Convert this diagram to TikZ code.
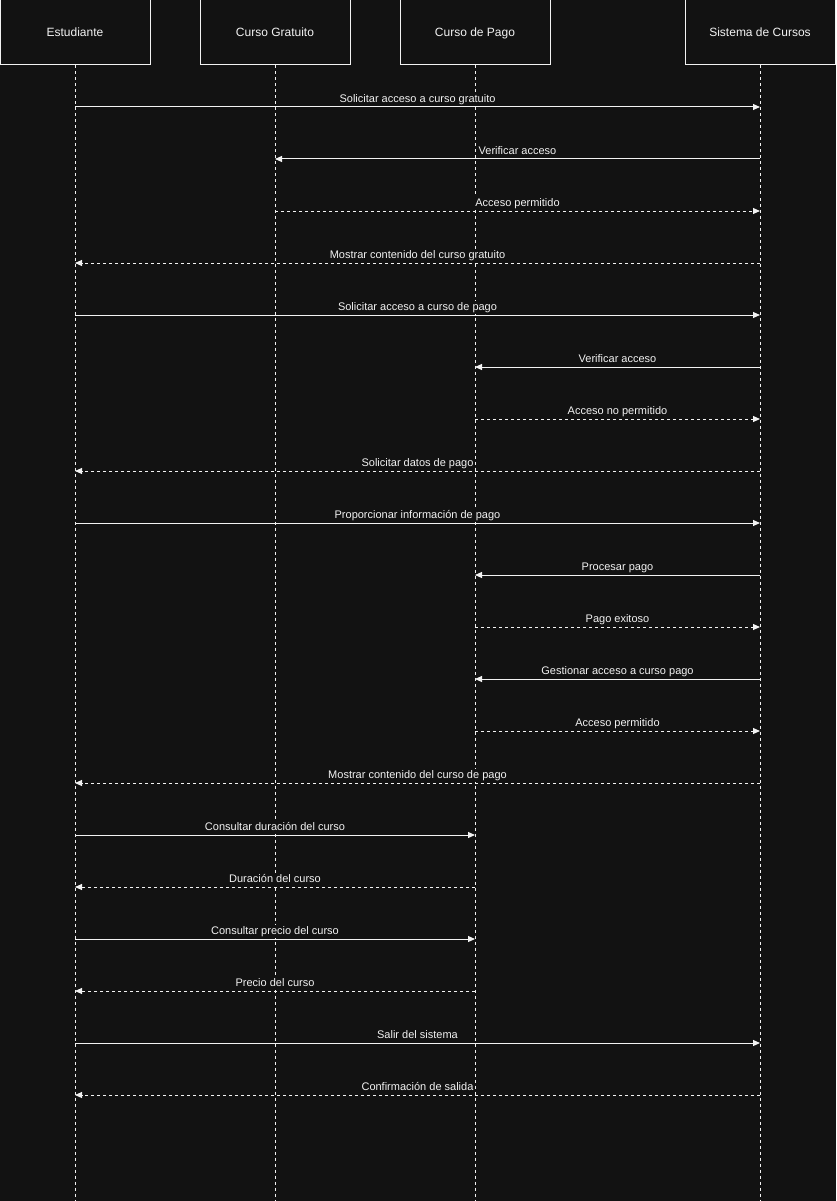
\documentclass[tikz,border=0pt]{standalone}
\usepackage{fontspec}
\setmainfont{Liberation Sans}
\usetikzlibrary{arrows.meta}
\definecolor{bgdark}{RGB}{18,18,18}
\definecolor{inkwhite}{RGB}{242,242,242}
\tikzset{every picture/.style={line width=1pt}}
\tikzset{
  head/.style={draw=inkwhite, fill=bgdark, text=inkwhite, minimum width=150, minimum height=65, inner sep=0pt, text height=8.6pt, text depth=0pt, font=\fontsize{12}{14}\selectfont},
  lifeline/.style={draw=inkwhite, dash pattern=on 3pt off 3pt},
  call/.style={draw=inkwhite, -{Triangle[length=7pt,width=6pt]}},
  reply/.style={call, dash pattern=on 3pt off 3pt},
  lbl/.style={text=inkwhite, fill=bgdark, inner sep=1pt, anchor=base, yshift=4.7pt, text height=8pt, text depth=2.5pt, font=\fontsize{11}{13}\selectfont}
}

\begin{document}
\begin{tikzpicture}[x=1pt,y=1pt,yscale=-1,xscale=1]
%set diagram size to the page
\fill[bgdark] (0,0) rectangle (836,1201);
\useasboundingbox (0,0) rectangle (836,1201);

%Participants
\node[head] (est) at (75,32.5) {Estudiante};
\node[head] (gra) at (275,32.5) {Curso Gratuito};
\node[head] (pag) at (475,32.5) {Curso de Pago};
\node[head] (sis) at (760,32.5) {Sistema de Cursos};

%Lifelines
\coordinate (estEnd) at (75,1201);
\coordinate (graEnd) at (275,1201);
\coordinate (pagEnd) at (475,1201);
\coordinate (sisEnd) at (760,1201);
\draw[lifeline] (est.south) -- (estEnd);
\draw[lifeline] (gra.south) -- (graEnd);
\draw[lifeline] (pag.south) -- (pagEnd);
\draw[lifeline] (sis.south) -- (sisEnd);

%message rows on each lifeline
\foreach \i in {1,...,20}{
  \coordinate (E\i) at (75,55+52*\i);
  \coordinate (G\i) at (275,55+52*\i);
  \coordinate (P\i) at (475,55+52*\i);
  \coordinate (S\i) at (760,55+52*\i);
}

%Messages
\draw[call] (E1) -- node[lbl] {Solicitar acceso a curso gratuito} (S1);
\draw[call] (S2) -- node[lbl] {Verificar acceso} (G2);
\draw[reply] (G3) -- node[lbl] {Acceso permitido} (S3);
\draw[reply] (S4) -- node[lbl] {Mostrar contenido del curso gratuito} (E4);
\draw[call] (E5) -- node[lbl] {Solicitar acceso a curso de pago} (S5);
\draw[call] (S6) -- node[lbl] {Verificar acceso} (P6);
\draw[reply] (P7) -- node[lbl] {Acceso no permitido} (S7);
\draw[reply] (S8) -- node[lbl] {Solicitar datos de pago} (E8);
\draw[call] (E9) -- node[lbl] {Proporcionar información de pago} (S9);
\draw[call] (S10) -- node[lbl] {Procesar pago} (P10);
\draw[reply] (P11) -- node[lbl] {Pago exitoso} (S11);
\draw[call] (S12) -- node[lbl] {Gestionar acceso a curso pago} (P12);
\draw[reply] (P13) -- node[lbl] {Acceso permitido} (S13);
\draw[reply] (S14) -- node[lbl] {Mostrar contenido del curso de pago} (E14);
\draw[call] (E15) -- node[lbl] {Consultar duración del curso} (P15);
\draw[reply] (P16) -- node[lbl] {Duración del curso} (E16);
\draw[call] (E17) -- node[lbl] {Consultar precio del curso} (P17);
\draw[reply] (P18) -- node[lbl] {Precio del curso} (E18);
\draw[call] (E19) -- node[lbl] {Salir del sistema} (S19);
\draw[reply] (S20) -- node[lbl] {Confirmación de salida} (E20);

\end{tikzpicture}
\end{document}
